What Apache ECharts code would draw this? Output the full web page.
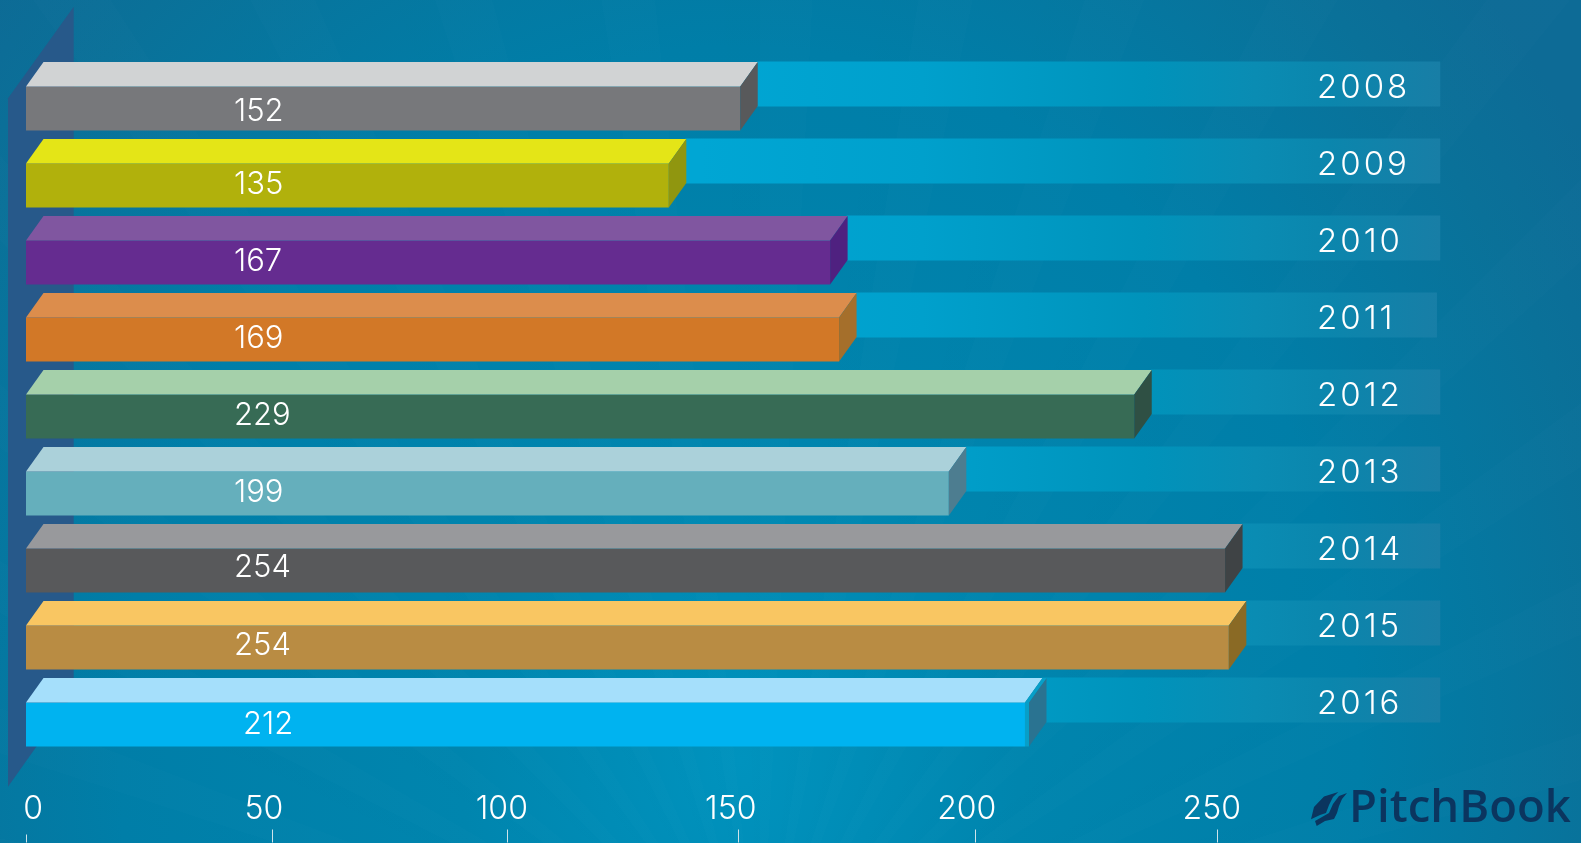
<!DOCTYPE html>
<html><head><meta charset="utf-8">
<style>
html,body{margin:0;padding:0;width:1581px;height:843px;overflow:hidden;
background:
 repeating-conic-gradient(from 0deg at 760px 1000px, rgba(255,255,255,.006) 0deg 3deg, rgba(255,255,255,0) 3deg 7deg, rgba(0,40,80,.005) 7deg 9deg),
 radial-gradient(ellipse 1000px 1150px at 740px 760px,#0093be 0%,#0085ae 28%,#007ea8 62%,#0a7199 88%,#0d6b96 100%);
}
#c{width:1581px;height:843px}
</style>
<script src="https://cdn.jsdelivr.net/npm/echarts@6/dist/echarts.min.js"></script>
</head><body><div id="c"></div>
<script>
const years=['2008','2009','2010','2011','2012','2013','2014','2015','2016'];
const barValues=[152,135,167,169,229,199,254,254,212];
// the infographic's bars are not quite to scale: how far each one reaches on the axis
const barReach=[151,135.9,170,171.9,234.3,195.1,253.5,254.3,211.2];
const trackReach=[299,299,299,298.3,299,299,299,299,299];
const tickLabels=['0','50','100','150','200','250'];
// where each tick and each tick label sits on the axis in the picture
const tickAt=[52,101.8,150.5,200.6,251.8];
const labelAt=[1.5,50.3,100.6,149,198.9,250.7];
const frontColors=['#77787b','#b1b10c','#652c90','#d27827','#376b55','#65afbc','#58595b','#b98c43','#00b3f0'];
const topColors=['#d1d3d4','#e4e517','#8056a0','#dc8d4c','#a5d0aa','#abd1da','#98999c','#f9c662','#a5dffb'];
const sideColors=['#58595b','#90960f','#4f2180','#a56f2b','#2f5044','#4d7d90','#3f4345','#8a6a25','#2a7391'];
const labelNudgeX=[0,0,0,0,0,0,0,0,9];
const labelNudgeY=[1,-3,-3,-3,-3,-3,-4.5,-4,-2];
const sideGap=[0,0,0,0,0,0,0,0,4];

const DX=17.5,DY=24.5,FONT='Inter, Lato, sans-serif',LOGO='#0b355f';
const trackFill={type:'linear',global:true,x:700,y:0,x2:1440,y2:0,colorStops:[
    {offset:0,color:'#00a6d4'},{offset:.3,color:'#00a0cc'},{offset:.6,color:'#0093bb'},{offset:.75,color:'#0a8cb3'},{offset:.85,color:'#0b86ad'},{offset:1,color:'#187ea6'}]};
function trackItem(p,api){
  const i=api.value(0),c=api.coord([0,i]),end=api.coord([api.value(3),i])[0],left=api.coord([api.value(2),i])[0]+DX-1;
  return {type:'rect',shape:{x:left,y:c[1]-23,width:end-left,height:45},style:{fill:trackFill}};
}
function barItem(p,api){
  const i=api.value(0),c=api.coord([0,i]),x1=api.coord([api.value(2),i])[0],x0=c[0],m=c[1]+2,b=c[1]+46,g=sideGap[i];
  const ch=[
    {type:'rect',shape:{x:x0,y:m,width:x1-x0,height:b-m},style:{fill:frontColors[i]}},
    {type:'polygon',shape:{points:[[x0,m],[x0+DX,m-DY],[x1+DX,m-DY],[x1,m]]},style:{fill:topColors[i]}},
    {type:'polygon',shape:{points:[[x1+g,m],[x1+g+DX,m-DY],[x1+g+DX,b-DY],[x1+g,b]]},style:{fill:sideColors[i]}}
  ];
  if(g){ch.push({type:'polygon',shape:{points:[[x1,m],[x1+DX,m-DY],[x1+g+DX,m-DY],[x1+g,m],[x1+g,b],[x1,b]]},style:{fill:'#079fc8'}});}
  ch.push({type:'text',style:{text:String(api.value(1)),x:234+labelNudgeX[i],y:c[1]+26+labelNudgeY[i],fill:'#fff',font:'300 31px '+FONT,align:'left',verticalAlign:'middle'}});
  return {type:'group',children:ch};
}
const chart=echarts.init(document.getElementById('c'),null,{renderer:'canvas',width:1581,height:843});
const rows=years.map((y,i)=>[i,barValues[i],barReach[i],trackReach[i]]);
const tickLine={show:true,lineStyle:{color:'#cfe3ea',width:1}};
chart.setOption({
  animation:false,backgroundColor:'transparent',
  grid:{left:26,top:46,width:1419,height:693,containLabel:false},
  graphic:[
    {type:'polygon',z:0,shape:{points:[[73.7,6.7],[8,98.3],[8,786.7],[73.7,694]]},style:{fill:'#27598a'}},
    {type:'polygon',z:100,shape:{points:[[1311,819.3],[1314,807],[1324,796.5],[1338.3,792],[1333,797],[1329,805],[1326,813],[1320,815]]},style:{fill:LOGO}},
    {type:'polygon',z:100,shape:{points:[[1347,793],[1339,796],[1333,804],[1329,813],[1322,817],[1315,821],[1316.7,826],[1325,821],[1334,819],[1337,813],[1339,806],[1342,799]]},style:{fill:LOGO}},
    {type:'text',z:100,style:{text:'PitchBook',x:1349,y:809,fill:LOGO,font:'600 45.5px "Open Sans", sans-serif',align:'left',verticalAlign:'middle'}}
  ],
  xAxis:[
    {type:'value',min:0,max:300,position:'bottom',offset:90.5,splitLine:{show:false},axisLine:{show:false},
     axisTick:{...tickLine,inside:false,length:13,customValues:tickAt},
     axisLabel:{show:true,inside:true,margin:4,customValues:labelAt,color:'#fff',fontFamily:FONT,fontSize:32,fontWeight:300,
       formatter:v=>tickLabels[labelAt.indexOf(v)]}},
    {type:'value',min:0,max:300,position:'bottom',offset:95.5,splitLine:{show:false},axisLine:{show:false},
     axisTick:{...tickLine,inside:false,length:8,customValues:[0]},axisLabel:{show:false}}
  ],
  yAxis:{type:'category',data:years,inverse:true,position:'right',z:10,axisLine:{show:false},axisTick:{show:false},splitLine:{show:false},
    axisLabel:{show:true,margin:-128,align:'left',verticalAlign:'top',lineHeight:7,color:'#fff',fontFamily:FONT,fontSize:33,fontWeight:300,
      formatter:v=>v.split('').join('\u200a')}},
  series:[
    {type:'custom',z:2,data:rows,encode:{x:3,y:0},renderItem:trackItem,silent:true},
    {type:'custom',z:3,data:rows,encode:{x:2,y:0},renderItem:barItem,silent:true}
  ]
});
</script></body></html>
